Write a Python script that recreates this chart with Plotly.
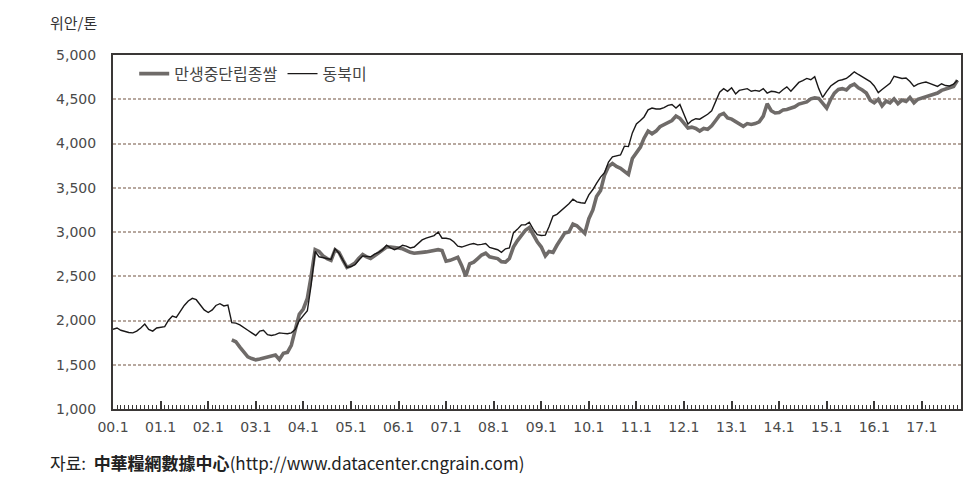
import plotly.graph_objects as go

years = list(range(2000, 2018))
months = [f"{y}-{m:02d}-01" for y in years for m in range(1, 13)][:214]

# 동북미 (black, thin)
dongbuk = [
    1900, 1915, 1890, 1875, 1865, 1860, 1880, 1915, 1960, 1900, 1880, 1915,  # 2000
    1920, 1930, 2000, 2050, 2035, 2100, 2170, 2220, 2250, 2235, 2180, 2120,  # 2001
    2090, 2120, 2170, 2190, 2165, 2175, 1975, 1970, 1950, 1925, 1890, 1860,  # 2002
    1830, 1880, 1890, 1840, 1830, 1840, 1860, 1855, 1850, 1860, 1900, 2000,  # 2003
    2060, 2110, 2400, 2780, 2720, 2710, 2700, 2690, 2810, 2760, 2680, 2600,  # 2004
    2610, 2630, 2680, 2730, 2725, 2720, 2750, 2770, 2800, 2850, 2820, 2800,  # 2005
    2820, 2850, 2840, 2820, 2830, 2870, 2910, 2930, 2950, 2960, 3000, 2930,  # 2006
    2930, 2920, 2890, 2840, 2830, 2850, 2860, 2870, 2855, 2860, 2870, 2825,  # 2007
    2810, 2800, 2770, 2810, 2820, 2990, 3030, 3080, 3080, 3110, 3030, 2970,  # 2008
    2960, 2965, 3060, 3180, 3200, 3240, 3290, 3320, 3370, 3340, 3330, 3325,  # 2009
    3420, 3480, 3550, 3620, 3670, 3790, 3850, 3860, 3870, 3970, 3965, 4120,  # 2010
    4220, 4260, 4300, 4380, 4400, 4390, 4390, 4405, 4430, 4440, 4400, 4440,  # 2011
    4320, 4220, 4260, 4280, 4275, 4300, 4330, 4370, 4470, 4580, 4620, 4590,  # 2012
    4630, 4560, 4600, 4610, 4620, 4590, 4600, 4590, 4620, 4570, 4590, 4585,  # 2013
    4570, 4610, 4640, 4590, 4640, 4690, 4710, 4735, 4720, 4755, 4620, 4520,  # 2014
    4590, 4650, 4680, 4710, 4720, 4735, 4770, 4810, 4780, 4755, 4730, 4700,  # 2015
    4650, 4575, 4610, 4650, 4680, 4760, 4745, 4735, 4740, 4700, 4645, 4670,  # 2016
    4685, 4695, 4680, 4660, 4645, 4675, 4655, 4650, 4670, 4715,              # 2017
]

# 만생중단립종쌀 (gray, thick)
mansaeng = [None] * 30 + [
    1780, 1760, 1700, 1650, 1590, 1570,                                      # 2002 H2
    1555, 1565, 1575, 1580, 1590, 1610, 1560, 1630, 1640, 1720, 1900, 2070,  # 2003
    2130, 2250, 2500, 2800, 2780, 2730, 2700, 2680, 2800, 2770, 2680, 2600,  # 2004
    2620, 2650, 2700, 2745, 2720, 2700, 2730, 2760, 2790, 2830, 2830, 2820,  # 2005
    2820, 2810, 2790, 2770, 2760, 2760, 2770, 2775, 2780, 2790, 2800, 2790,  # 2006
    2670, 2680, 2700, 2715, 2620, 2500, 2640, 2660, 2700, 2740, 2760, 2720,  # 2007
    2710, 2700, 2665, 2660, 2700, 2830, 2900, 2960, 3020, 3050, 2960, 2890,  # 2008
    2830, 2730, 2780, 2770, 2850, 2920, 2990, 3000, 3090, 3070, 3030, 2985,  # 2009
    3150, 3250, 3400, 3470, 3640, 3740, 3775, 3740, 3720, 3680, 3650, 3830,  # 2010
    3900, 3960, 4060, 4140, 4110, 4140, 4190, 4210, 4230, 4260, 4310, 4285,  # 2011
    4230, 4175, 4185, 4170, 4140, 4170, 4160, 4200, 4260, 4320, 4340, 4290,  # 2012
    4275, 4245, 4230, 4195, 4225, 4215, 4225, 4245, 4310, 4450, 4370, 4345,  # 2013
    4350, 4380, 4385, 4400, 4415, 4445, 4460, 4470, 4505, 4515, 4510, 4450,  # 2014
    4400, 4500, 4570, 4610, 4620, 4605, 4650, 4670, 4630, 4605, 4570, 4490,  # 2015
    4460, 4500, 4425, 4480, 4460, 4505, 4450, 4490, 4475, 4520, 4460, 4500,  # 2016
    4515, 4525, 4545, 4555, 4570, 4600, 4620, 4630, 4645, 4715,              # 2017
]

series_names = ["만생중단립종쌀", "동북미"]
y_ticks = [1000, 1500, 2000, 2500, 3000, 3500, 4000, 4500, 5000]

n = min(len(months), len(dongbuk), len(mansaeng))
x = months[:n]

KR = "Noto Sans CJK KR"
NUM = "DejaVu Sans"

fig = go.Figure()
fig.add_trace(go.Scatter(x=x, y=mansaeng[:n], name=series_names[0], mode="lines",
                         line=dict(color="#6f6b69", width=3.6), connectgaps=False))
fig.add_trace(go.Scatter(x=x, y=dongbuk[:n], name=series_names[1], mode="lines",
                         line=dict(color="#1a1818", width=1.4)))

fig.update_layout(
    width=980, height=494,
    margin=dict(l=113, r=19, t=55, b=85),
    paper_bgcolor="white", plot_bgcolor="white",
    font=dict(family=KR, color="#444"),
    showlegend=True,
    legend=dict(orientation="h", x=0.025, y=0.995, xanchor="left", yanchor="top",
                bgcolor="rgba(0,0,0,0)", font=dict(family=KR, size=16, color="#444"),
                itemwidth=30, tracegroupgap=0),
)
fig.update_xaxes(
    type="date",
    range=["2000-01-01", "2017-10-28"],
    dtick="M12", tick0="2000-01-01", tickformat="%y.%-m",
    ticks="inside", ticklen=8, tickwidth=2, tickcolor="#3a3736",
    minor=dict(dtick="M1", ticks="inside", ticklen=4, tickwidth=1, tickcolor="#3a3736", showgrid=False),
    showgrid=False, zeroline=False,
    showline=True, linecolor="#3a3736", linewidth=2, mirror=True,
    tickfont=dict(family=NUM, size=14, color="#4a4a4a"),
    ticklabelstandoff=4,
)
fig.update_yaxes(
    range=[1000, 5000], tickvals=y_ticks, tickformat=",",
    showgrid=True, gridcolor="#b7a89f", gridwidth=1.5, griddash="3px,2px",
    zeroline=False,
    showline=True, linecolor="#3a3736", linewidth=2, mirror=True,
    ticks="", tickfont=dict(family=NUM, size=14, color="#4a4a4a"),
    ticklabelstandoff=12,
)

fig.add_annotation(text="위안/톤", xref="paper", yref="paper", x=-0.077, y=1.093,
                   xanchor="left", yanchor="middle", showarrow=False,
                   font=dict(family=KR, size=15, color="#333"))
fig.add_annotation(text="자료:  <b>中華糧網數據中心</b>(http://www.datacenter.cngrain.com)",
                   xref="paper", yref="paper", x=-0.077, y=-0.150,
                   xanchor="left", yanchor="middle", showarrow=False,
                   font=dict(family=KR, size=17, color="#222"))

fig.write_html("out.html")
